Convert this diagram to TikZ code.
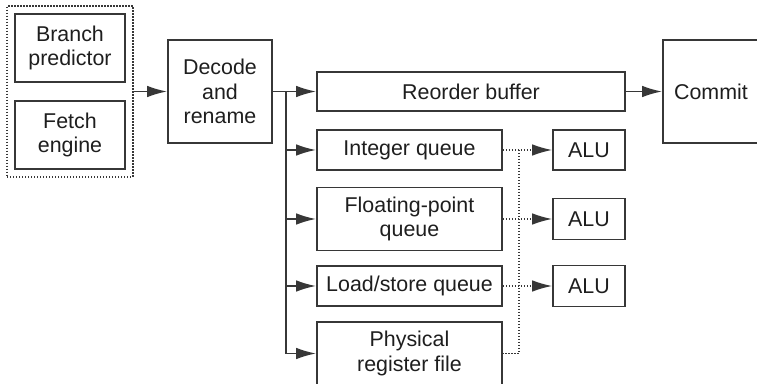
\documentclass[tikz,border=0pt]{standalone}
\usepackage{fontspec}
\setmainfont{Liberation Sans}
\usetikzlibrary{arrows.meta,fit}

\definecolor{boxgray}{RGB}{55,55,55}
\definecolor{txtgray}{RGB}{30,30,30}

\tikzset{
  unit/.style={draw=boxgray, line width=0.9pt, text=txtgray, align=center,
    inner sep=0pt, font=\fontsize{10.7}{12.3}\selectfont},
  flow/.style={draw=boxgray, line width=0.9pt, -{Latex[length=10pt,width=5.8pt]}},
  wakeup/.style={draw=boxgray, line width=0.7pt, dash pattern=on 0.7pt off 0.8pt},
  wakeuparrow/.style={wakeup, -{Latex[length=10pt,width=5.8pt]}},
}

\begin{document}
\begin{tikzpicture}[x=0.5pt, y=-0.5pt]
  \useasboundingbox (0,0) rectangle (757,384);

  % front end: predictor and fetch inside a dotted frame
  \node[unit, minimum width=55pt, minimum height=34pt] (bp) at (70,48) {Branch\\predictor};
  \node[unit, minimum width=55pt, minimum height=34pt] (fe) at (70,135) {Fetch\\engine};
  \node[wakeup, fit=(bp)(fe), inner sep=3.5pt] (fetch) {};

  % decode, reorder buffer and commit
  \node[unit, minimum width=52pt, minimum height=51.5pt] (dec) at (220,91.5) {Decode\\and\\rename};
  \node[unit, minimum width=154pt, minimum height=19.5pt] (rob) at (471,91.5) {Reorder buffer};
  \node[unit, minimum width=48pt, minimum height=51.5pt] (com) at (711,91.5) {Commit};

  % issue queues and register file
  \node[unit, minimum width=92.5pt, minimum height=20pt] (iq) at (409.5,150) {Integer queue};
  \node[unit, minimum width=92.5pt, minimum height=31.5pt] (fq) at (409.5,219) {Floating-point\\queue};
  \node[unit, minimum width=92.5pt, minimum height=20pt] (lq) at (409.5,286) {Load/store queue};
  \node[unit, minimum width=92.5pt, minimum height=31.5pt] (prf) at (409.5,353.5) {Physical\\register file};

  % execution units
  \node[unit, minimum width=36pt, minimum height=20pt] (alu1) at (589,150) {ALU};
  \node[unit, minimum width=36pt, minimum height=20.5pt] (alu2) at (589,219) {ALU};
  \node[unit, minimum width=36pt, minimum height=20.5pt] (alu3) at (589,286) {ALU};

  % dispatch path
  \draw[flow] (fetch.east) -- (dec.west);
  \draw[flow] (dec.east) -- (rob.west);
  \draw[flow] (rob.east) -- (com.west);
  \coordinate (split) at (286,91.5);
  \foreach \q in {iq,fq,lq,prf}
    \draw[flow] (split) |- (\q.west);

  % operand bus towards the ALUs
  \coordinate (bus) at (519,150);
  \draw[wakeup] (bus) -- (bus |- prf.east) -- (prf.east);
  \foreach \q/\a in {iq/alu1,fq/alu2,lq/alu3}
    \draw[wakeuparrow] (\q.east) -- (\a.west);

\end{tikzpicture}
\end{document}
